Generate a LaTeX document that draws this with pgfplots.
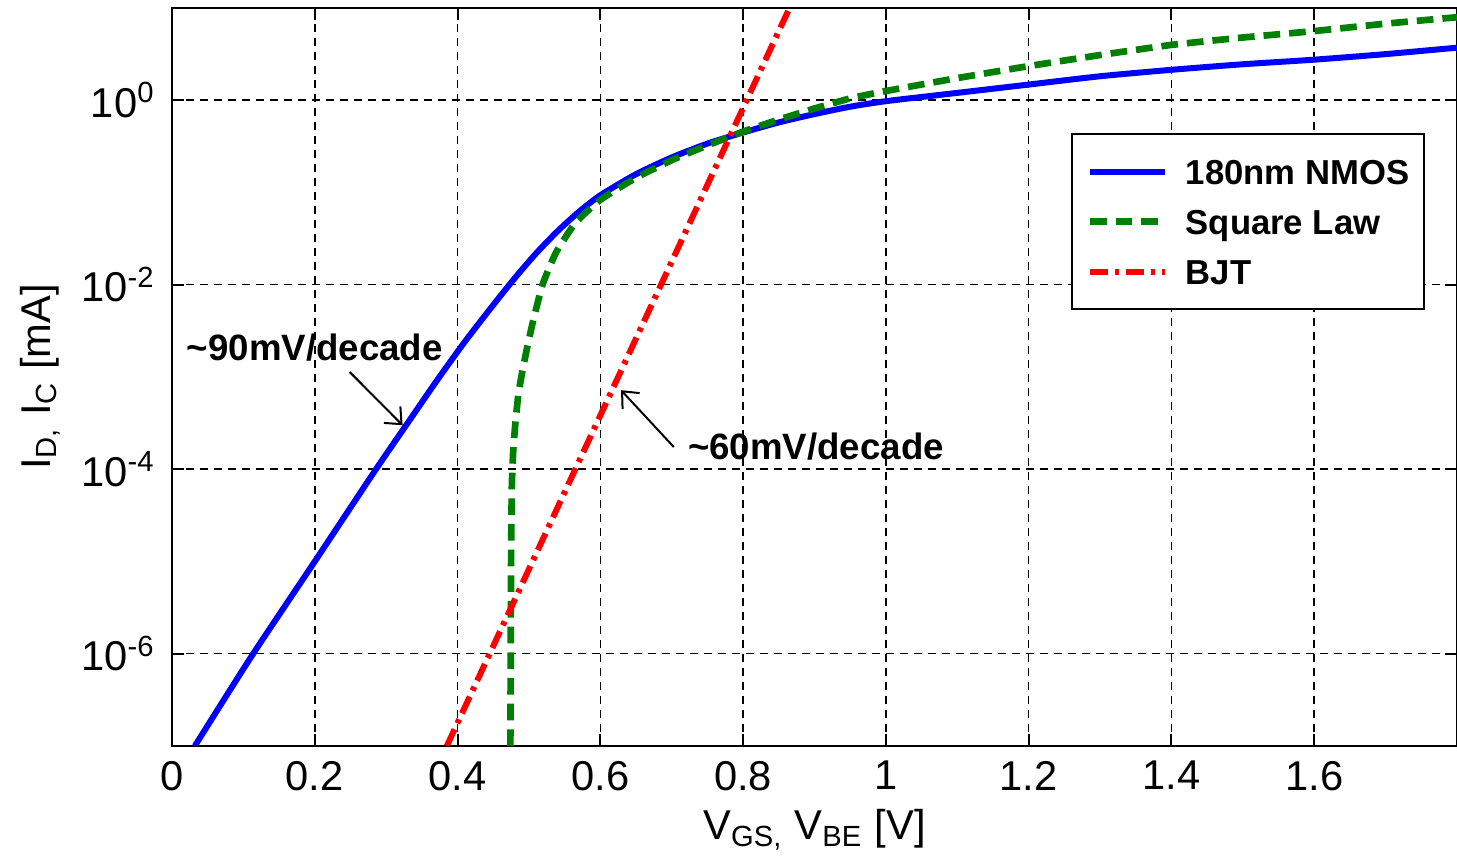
\documentclass[border=0pt]{standalone}
\usepackage{fontspec}
\setmainfont{Liberation Sans}
\usepackage{pgfplots}
\pgfplotsset{compat=1.18}
\usetikzlibrary{arrows.meta}
\definecolor{mblue}{RGB}{0,0,255}
\definecolor{mgreen}{RGB}{0,128,0}
\definecolor{mred}{RGB}{255,0,0}
\newcommand{\lblfont}{\fontsize{12.5}{14}\selectfont}
\newcommand{\annfont}{\bfseries\fontsize{11}{13}\selectfont}
\newcommand{\legfont}{\bfseries\fontsize{10.4}{12}\selectfont}

\begin{document}
\begin{tikzpicture}
\begin{axis}[
  at={(0,0)}, anchor=south west,
  scale only axis, width=385.5pt, height=221.4pt,
  xmin=0, xmax=1.8, ymode=log, ymin=1e-7, ymax=10,
  xtick={0,0.2,0.4,0.6,0.8,1,1.2,1.4,1.6},
  xticklabels={0,0.2,0.4,0.6,0.8,1,1.2,1.4,1.6},
  ytick={1e-6,1e-4,1e-2,1},
  yticklabels={10\textsuperscript{-6},10\textsuperscript{-4},10\textsuperscript{-2},10\textsuperscript{0}},
  yminorticks=false,
  grid=major,
  major grid style={black, line width=0.45pt, dash pattern=on 2.4pt off 1.8pt},
  tick align=inside, major tick length=3.5pt,
  tick style={black, line width=0.6pt},
  axis line style={line width=0.6pt},
  ticklabel style={font=\lblfont},
  xticklabel style={yshift=-1pt},
  yticklabel style={xshift=-1.5pt},
  label style={font=\lblfont},
  xlabel={V\textsubscript{GS,} V\textsubscript{BE} [V]},
  xlabel style={at={(axis description cs:0.5,0)}, anchor=base, yshift=-28.2pt},
  ylabel={I\textsubscript{D,} I\textsubscript{C} [mA]},
  ylabel style={at={(axis description cs:-0.1027,0.5)}, anchor=center},
  legend cell align=left,
  legend style={at={(0.975,0.8306)}, anchor=north east, draw=black, line width=0.6pt,
    fill=white, font=\legfont, inner xsep=4.4pt, inner ysep=6.25pt, row sep=5pt,
    column sep=5.2pt,
    nodes={inner sep=0pt, text height=9pt, text depth=1pt}},
  legend image code/.code={\draw[#1] (0pt,0pt) -- (22.5pt,0pt);},
]
\addplot[mblue, line width=1.8pt, smooth, tension=0.4] coordinates {
  (0.032,1e-7) (0.112,9.55e-7) (0.2,1e-5) (0.284,9.55e-5) (0.33,3.16e-4)
  (0.37,8.91e-4) (0.41,2.40e-3) (0.45,6.03e-3) (0.48,0.01175) (0.51,0.02188)
  (0.54,0.0380) (0.57,0.0617) (0.6,0.0933) (0.65,0.158) (0.7,0.240)
  (0.75,0.339) (0.8,0.447) (0.85,0.575) (0.9,0.708) (0.95,0.851)
  (1.0,0.977) (1.1,1.202) (1.2,1.479) (1.3,1.820) (1.4,2.138)
  (1.5,2.455) (1.6,2.754) (1.7,3.162) (1.8,3.715)};
\addlegendentry{180nm NMOS}
\addplot[mgreen, line width=2pt, dash pattern=on 5pt off 2.7pt, smooth, tension=0.3] coordinates {
  (0.474,1e-7) (0.475,1e-5) (0.476,6.31e-5) (0.478,1.585e-4) (0.481,3.16e-4)
  (0.485,6.31e-4) (0.49,1.07e-3) (0.497,2.0e-3) (0.505,3.80e-3) (0.519,1e-2)
  (0.538,0.0224) (0.565,0.0468) (0.6,0.0832) (0.65,0.1445) (0.7,0.224)
  (0.75,0.324) (0.8,0.457) (0.85,0.617) (0.9,0.813) (0.95,1.047)
  (1.0,1.259) (1.1,1.738) (1.2,2.344) (1.3,3.090) (1.4,3.981)
  (1.5,4.786) (1.6,5.623) (1.7,6.761) (1.8,7.943)};
\addlegendentry{Square Law}
\addplot[mred, line width=1.8pt, dash pattern=on 5.5pt off 2pt on 1.3pt off 2pt] coordinates {
  (0.385,1e-7) (0.865,10)};
\addlegendentry{BJT}
\node[font=\annfont] at (axis cs:0.2,2.07e-3) {\textasciitilde 90mV/decade};
\draw[black, line width=0.6pt, -{Straight Barb[length=4pt,width=7pt]}]
  (axis cs:0.249,1.13e-3) -- (axis cs:0.323,3.0e-4);
\node[font=\annfont] at (axis cs:0.902,1.74e-4) {\textasciitilde 60mV/decade};
\draw[black, line width=0.6pt, -{Straight Barb[length=4pt,width=7pt]}]
  (axis cs:0.703,1.74e-4) -- (axis cs:0.629,7.2e-4);
\end{axis}
\pgfresetboundingbox
\path[use as bounding box] (-51.6pt,-34.8pt) rectangle (385.5pt,223.8pt);
\end{tikzpicture}
\end{document}
